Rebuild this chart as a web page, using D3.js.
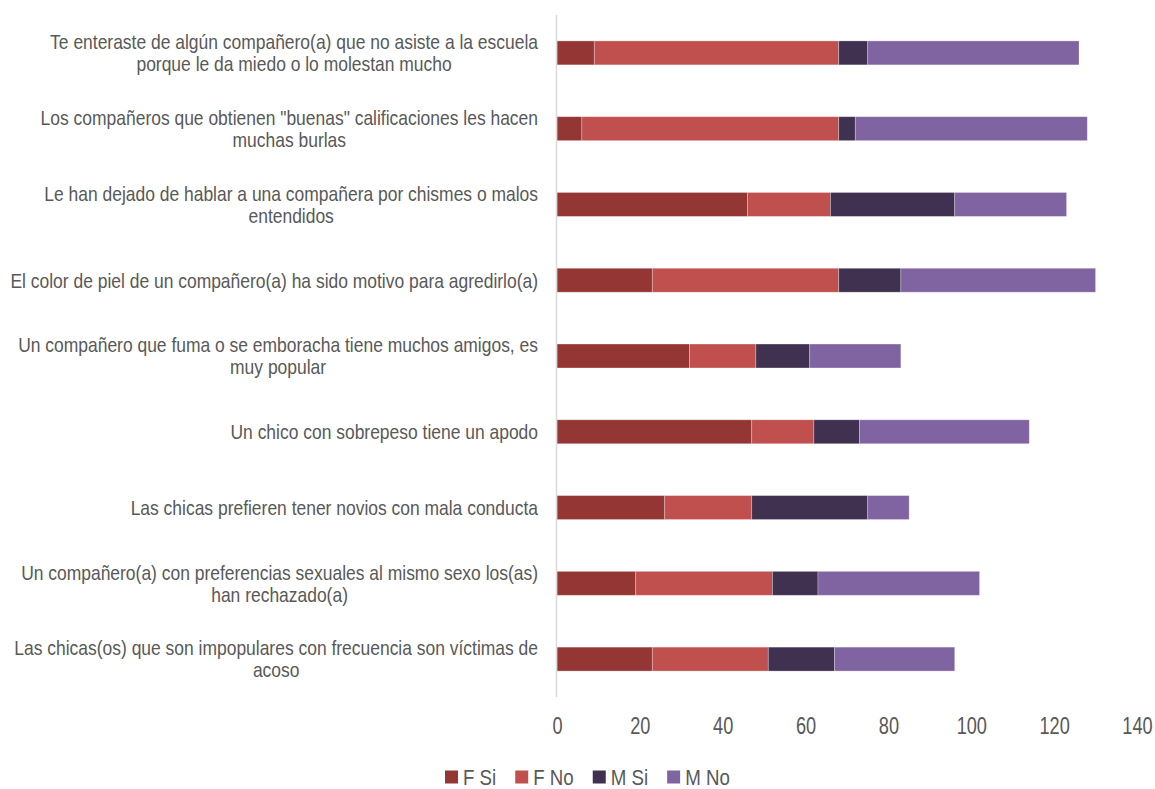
<!DOCTYPE html>
<html><head><meta charset="utf-8">
<script src="https://cdn.jsdelivr.net/npm/d3@7"></script>
<style>
html,body{margin:0;padding:0;background:#fff;}
svg text{font-family:"Liberation Sans",Arial,sans-serif;fill:#595959;}
</style></head>
<body>
<svg id="chart" width="1155" height="789"></svg>
<script>
const categories = [
  "Te enteraste de algún compañero(a) que no asiste a la escuela\nporque le da miedo o lo molestan mucho",
  "Los compañeros que obtienen \"buenas\" calificaciones les hacen\nmuchas burlas",
  "Le han dejado de hablar a una compañera por chismes o malos\nentendidos",
  "El color de piel de un compañero(a) ha sido motivo para agredirlo(a)",
  "Un compañero que fuma o se emboracha tiene muchos amigos, es\nmuy popular",
  "Un chico con sobrepeso tiene un apodo",
  "Las chicas prefieren tener novios con mala conducta",
  "Un compañero(a) con preferencias sexuales al mismo sexo los(as)\nhan rechazado(a)",
  "Las chicas(os) que son impopulares con frecuencia son víctimas de\nacoso"
];
const seriesNames = ["F Si", "F No", "M Si", "M No"];
const fSi = [9, 6, 46, 23, 32, 47, 26, 19, 23];
const fNo = [59, 62, 20, 45, 16, 15, 21, 33, 28];
const mSi = [7, 4, 30, 15, 13, 11, 28, 11, 16];
const mNo = [51, 56, 27, 47, 22, 41, 10, 39, 29];
const tickValues = [0, 20, 40, 60, 80, 100, 120, 140];
const colors = ["#943634", "#C0504D", "#403151", "#8064A2"];

(function(){
const rows = categories.map((c, i) => ({cat: c, "F Si": fSi[i], "F No": fNo[i], "M Si": mSi[i], "M No": mNo[i]}));
const svg = d3.select("#chart");
const pLeft = 557, pRight = 1137, pTop = 15, pBottom = 697;

const x = d3.scaleLinear().domain([0, 140]).range([pLeft, pRight]);
const y = d3.scaleBand().domain(categories).range([pTop, pBottom]).paddingInner(0.684).paddingOuter(0.342);
const color = d3.scaleOrdinal().domain(seriesNames).range(colors);

const stacked = d3.stack().keys(seriesNames)(rows);

svg.append("g").selectAll("g").data(stacked).join("g")
  .attr("fill", d => color(d.key))
  .selectAll("rect").data(d => d).join("rect")
  .attr("x", d => x(d[0]))
  .attr("y", d => y(d.data.cat))
  .attr("width", d => x(d[1]) - x(d[0]))
  .attr("height", y.bandwidth())
  .attr("stroke", "#ffffff").attr("stroke-width", 0.8).attr("stroke-opacity", 0.35);

svg.append("line").attr("x1", pLeft - 0.5).attr("x2", pLeft - 0.5).attr("y1", pTop).attr("y2", pBottom)
  .attr("stroke", "#d9d9d9").attr("stroke-width", 1.5);

const xAxis = d3.axisBottom(x).tickValues(tickValues).tickSize(0).tickPadding(0);
const gx = svg.append("g").attr("transform", `translate(0,${pBottom + 29})`).call(xAxis);
gx.select(".domain").remove();
gx.attr("font-family", null).attr("font-size", null);
gx.selectAll("text").style("font-size", "23px").attr("fill", "#595959")
  .attr("y", 0).attr("dy", "0.35em").attr("transform", "scale(0.79,1)");

// category labels
const lab = svg.append("g");
const sample = lab.append("text").style("font-size", "21px").text(categories[3]);
const sxl = 528 / sample.node().getComputedTextLength();
sample.remove();
categories.forEach(c => {
  const lines = c.split("\n");
  const cy = y(c) + y.bandwidth() / 2;
  const lh = 22;
  const g = lab.append("g").attr("transform", `translate(538,0) scale(${sxl},1)`);
  const t = g.append("text").attr("text-anchor", "middle").style("font-size", "21px");
  lines.forEach((ln, k) => {
    t.append("tspan").attr("y", cy + (k - (lines.length - 1) / 2) * lh).attr("dy", "0.35em").text(ln);
  });
  const widths = [];
  t.selectAll("tspan").each(function(){ widths.push(this.getComputedTextLength()); });
  const w = d3.max(widths);
  t.selectAll("tspan").attr("x", -w / 2);
});

// legend
const LSX = 0.85;
let lx = 0;
const lg = svg.append("g");
seriesNames.forEach((s) => {
  const g = lg.append("g").attr("transform", `translate(${lx},0)`);
  g.append("rect").attr("x", 0).attr("y", -6.5).attr("width", 13).attr("height", 13).attr("fill", color(s));
  const tg = g.append("g").attr("transform", `translate(18,0) scale(${LSX},1)`);
  const tt = tg.append("text").attr("x", 0).attr("y", 0).attr("dy", "0.35em").style("font-size", "22px").text(s);
  lx += 18 + tt.node().getComputedTextLength() * LSX + 19;
});
lx -= 19;
lg.attr("transform", `translate(${445},777)`);
})();
</script>
</body></html>
